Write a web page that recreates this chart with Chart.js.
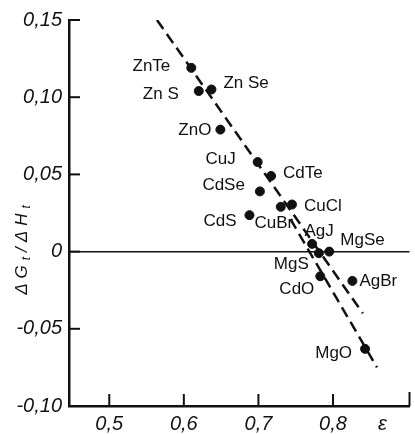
<!DOCTYPE html>
<html>
<head>
<meta charset="utf-8">
<script src="https://cdn.jsdelivr.net/npm/chart.js@4.4.1/dist/chart.umd.min.js"></script>
<style>
  html, body { margin: 0; padding: 0; background: #fff; }
</style>
</head>
<body>
<canvas id="chart" width="415" height="434"></canvas>
<script>
// Compounds with their epsilon and dG/dH values
const compounds = ['ZnTe', 'Zn S', 'Zn Se', 'ZnO', 'CuJ', 'CdTe', 'CdSe', 'CuCl', 'CdS', 'CuBr', 'AgJ', 'MgSe', 'MgS', 'CdO', 'AgBr', 'MgO'];
const epsilon = [0.610, 0.620, 0.637, 0.649, 0.699, 0.717, 0.702, 0.745, 0.688, 0.730, 0.772, 0.795, 0.781, 0.783, 0.826, 0.843];
const ratio = [0.119, 0.104, 0.105, 0.079, 0.058, 0.049, 0.039, 0.0305, 0.0236, 0.029, 0.005, 0.0, -0.001, -0.016, -0.019, -0.063];

// Two dashed trend lines (end points)
const upperLineX = [0.564, 0.840];
const upperLineY = [0.150, -0.040];
const lowerLineX = [0.743, 0.859];
const lowerLineY = [0.021, -0.075];

// Axis ticks
const xTicks = [0.5, 0.6, 0.7, 0.8];
const yTicks = [-0.10, -0.05, 0, 0.05, 0.10, 0.15];

// Where each compound name sits relative to its dot: [align, dx, dy]
const labelPlacement = [
  ['right', -21, -2], ['right', -20, 3], ['left', 12, -6], ['right', -9, 1],
  ['right', -22, -3], ['left', 12, -3], ['right', -15, -6], ['left', 12, 2],
  ['right', -13, 6], ['center', -7, 16], ['center', 7, -13], ['left', 11, -11],
  ['right', -10, 11], ['right', -6, 13], ['left', 7, 0], ['right', -13, 4],
];

const INK = '#111';
const LABEL_FONT = "17px 'Liberation Sans', Arial, sans-serif";
const TICK_FONT = { family: "'Liberation Sans', Arial, sans-serif", size: 20, style: 'italic' };

function commaNum(v, digits) {
  if (v === 0) return '0';
  return (v < 0 ? '-' : '') + Math.abs(v).toFixed(digits).replace('.', ',');
}

function toPoints(xs, ys) {
  return xs.map((x, i) => ({ x, y: ys[i] }));
}

// Inner tick marks, compound names and axis titles
const decorations = {
  id: 'decorations',
  afterDraw(chart) {
    const { ctx, chartArea, scales: { x, y } } = chart;
    ctx.save();
    ctx.strokeStyle = INK;
    ctx.lineWidth = 2;

    xTicks.forEach(v => {
      const px = x.getPixelForValue(v);
      ctx.beginPath();
      ctx.moveTo(px, chartArea.bottom);
      ctx.lineTo(px, chartArea.bottom - 12);
      ctx.stroke();
    });
    ctx.beginPath();
    ctx.moveTo(chartArea.right, chartArea.bottom);
    ctx.lineTo(chartArea.right, chartArea.bottom - 14);
    ctx.stroke();

    yTicks.forEach(v => {
      const py = y.getPixelForValue(v);
      ctx.beginPath();
      ctx.moveTo(chartArea.left, py);
      ctx.lineTo(chartArea.left + 11, py);
      ctx.stroke();
    });

    // compound names
    ctx.fillStyle = INK;
    ctx.font = LABEL_FONT;
    ctx.textBaseline = 'middle';
    const meta = chart.getDatasetMeta(0);
    compounds.forEach((name, i) => {
      const pt = meta.data[i];
      const [align, dx, dy] = labelPlacement[i];
      ctx.textAlign = align;
      ctx.fillText(name, pt.x + dx, pt.y + dy);
    });

    // x axis title
    ctx.font = "italic 20px 'Liberation Sans', Arial, sans-serif";
    ctx.textAlign = 'center';
    ctx.textBaseline = 'top';
    ctx.fillText('\u03b5', chartArea.right - 27, chartArea.bottom + 8);

    // y axis title: ΔGt / ΔHt with subscripts, rotated
    ctx.translate(21, 250);
    ctx.rotate(-Math.PI / 2);
    const parts = [
      ['\u0394', false], ['G', false], ['t', true], ['/', false],
      ['\u0394', false], ['H', false], ['t', true],
    ];
    const big = "italic 17px 'Liberation Sans', Arial, sans-serif";
    const small = "italic 12px 'Liberation Sans', Arial, sans-serif";
    const gap = 5;
    let total = 0;
    parts.forEach(([s, sub]) => {
      ctx.font = sub ? small : big;
      total += ctx.measureText(s).width + gap;
    });
    total -= gap;
    let cx = -total / 2;
    ctx.textAlign = 'left';
    ctx.textBaseline = 'alphabetic';
    parts.forEach(([s, sub]) => {
      ctx.font = sub ? small : big;
      ctx.fillText(s, cx, sub ? 9 : 6);
      cx += ctx.measureText(s).width + gap;
    });
    ctx.restore();
  },
};

new Chart(document.getElementById('chart'), {
  type: 'scatter',
  data: {
    datasets: [
      {
        data: toPoints(epsilon, ratio),
        backgroundColor: INK,
        borderColor: INK,
        pointRadius: 4.5,
        pointHoverRadius: 4.5,
      },
      {
        data: toPoints(upperLineX, upperLineY),
        showLine: true,
        borderColor: INK,
        borderWidth: 2.5,
        borderDash: [11, 6],
        pointRadius: 0,
      },
      {
        data: toPoints(lowerLineX, lowerLineY),
        showLine: true,
        borderColor: INK,
        borderWidth: 2.5,
        borderDash: [11, 6],
        pointRadius: 0,
      },
    ],
  },
  options: {
    responsive: false,
    animation: false,
    devicePixelRatio: 1,
    layout: { padding: { top: 20, right: 2, left: 0, bottom: 0 } },
    plugins: {
      legend: { display: false },
      tooltip: { enabled: false },
    },
    scales: {
      x: {
        type: 'linear',
        min: 0.446,
        max: 0.9026,
        afterBuildTicks: scale => { scale.ticks = xTicks.map(v => ({ value: v })); },
        afterFit: scale => { scale.height = 28; },
        grid: { drawOnChartArea: false, drawTicks: false },
        border: { color: INK, width: 2.5 },
        ticks: {
          color: INK,
          font: TICK_FONT,
          padding: 6,
          maxRotation: 0,
          callback: v => commaNum(v, 1),
        },
      },
      y: {
        min: -0.10,
        max: 0.15,
        afterBuildTicks: scale => { scale.ticks = yTicks.map(v => ({ value: v })); },
        afterFit: scale => { scale.width = 69; },
        grid: {
          drawTicks: false,
          lineWidth: 1.5,
          color: c => (c.tick && c.tick.value === 0 ? INK : 'rgba(0,0,0,0)'),
        },
        border: { color: INK, width: 2.5 },
        ticks: {
          color: INK,
          font: TICK_FONT,
          padding: 7,
          callback: v => commaNum(v, 2),
        },
      },
    },
  },
  plugins: [decorations],
});
</script>
</body>
</html>
